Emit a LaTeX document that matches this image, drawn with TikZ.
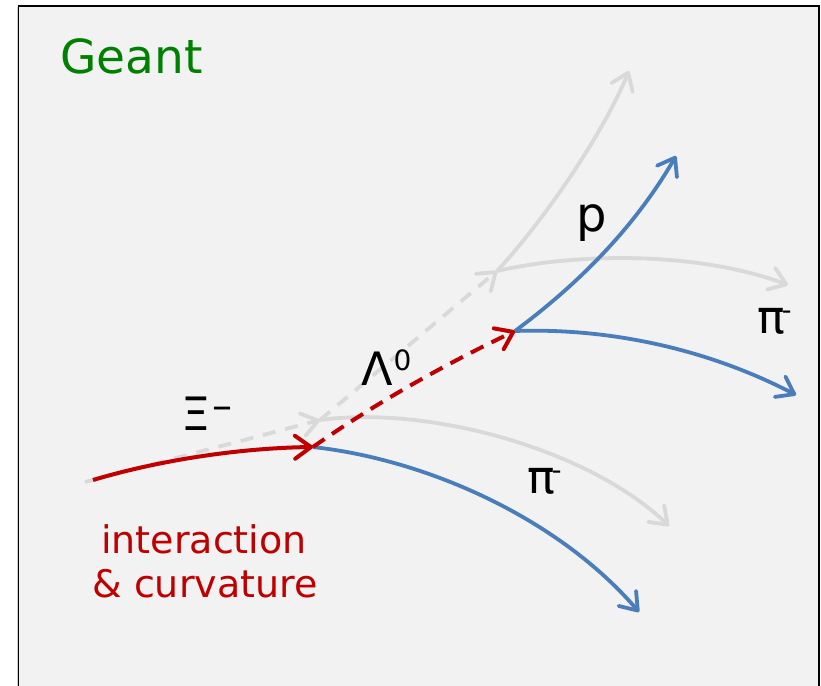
\documentclass[tikz,border=0pt]{standalone}
\usepackage{fontspec}
\setmainfont{DejaVu Sans}
\usetikzlibrary{arrows.meta}
\definecolor{geantgreen}{HTML}{008000}
\definecolor{trkred}{HTML}{C00000}
\definecolor{trkblue}{HTML}{4A7EBB}
\definecolor{trkgray}{HTML}{D9D9D9}
\definecolor{panelbg}{HTML}{F2F2F2}
\tikzset{
  barb/.style={-{Straight Barb[length=16pt,width=23pt,round]}},
  ghost/.style={draw=trkgray,line width=3.8pt,barb},
  ghostdash/.style={ghost,dash pattern=on 13pt off 10pt},
  redtrk/.style={draw=trkred,line width=4pt,barb},
  reddash/.style={redtrk,dash pattern=on 14pt off 9pt},
  bluetrk/.style={draw=trkblue,line width=3.8pt,barb},
  lbl/.style={inner sep=0pt,anchor=base west,font=\fontsize{46}{52}\selectfont},
}
\begin{document}
\begin{tikzpicture}[x=1pt,y=-1pt]
\useasboundingbox (0,0) rectangle (821,685);
% panel
\fill[panelbg] (18.5,6) rectangle (819,700);
\draw[gray!40,line width=1pt] (17,7) -- (17,700);
\draw[black,line width=1.5pt] (18.5,700) -- (18.5,6) -- (819,6) -- (819,700);
% coordinates
\coordinate (gstart) at (85,482);
\coordinate (gv1) at (320,420);
\coordinate (gv2) at (497,271);
\coordinate (gpiA) at (669,526);
\coordinate (gp) at (629,71);
\coordinate (gpiB) at (788,285);
\coordinate (rstart) at (93,480);
\coordinate (v1) at (313,447);
\coordinate (v2) at (515,331);
\coordinate (bpiA) at (639,612);
\coordinate (bp) at (676,156);
\coordinate (bpiB) at (796,395);
% ghost tracks
\draw[ghostdash] (gstart) -- (gv1);
\draw[ghostdash] (gv1) -- (gv2);
\draw[ghost] (gv1) .. controls (430,405) and (590,450) .. (gpiA);
\draw[ghost] (gv2) .. controls (540,225) and (600,140) .. (gp);
\draw[ghost] (gv2) .. controls (580,252) and (700,252) .. (gpiB);
% blue tracks
\draw[bluetrk] (v1) .. controls (430,460) and (560,520) .. (bpiA);
\draw[bluetrk] (v2) .. controls (570,290) and (630,235) .. (bp);
\draw[bluetrk] (v2) .. controls (600,328) and (700,345) .. (bpiB);
% red tracks
\draw[redtrk] (rstart) .. controls (160,460) and (240,448) .. (v1);
\draw[reddash] (v1) .. controls (380,400) and (450,362) .. (v2);
% labels
\node[inner sep=0pt,anchor=base west,text=geantgreen,font=\fontsize{47}{54}\selectfont] (geant) at (60,74) {Geant};
\node[inner sep=0pt,anchor=base,text=trkred,font=\fontsize{38}{44}\selectfont] (int1) at (204,553) {interaction};
\node[inner sep=0pt,anchor=base,text=trkred,font=\fontsize{38}{44}\selectfont] (int2) at (205,597) {\& curvature};
\node[lbl] (xi) at (181,430) {Ξ\kern2pt\raisebox{11pt}{\fontsize{40}{44}\selectfont –}};
\node[lbl] (lam) at (361,385) {Λ\kern1pt\raisebox{15pt}{\fontsize{28}{30}\selectfont 0}};
\node[lbl,font=\fontsize{48}{54}\selectfont] (plbl) at (576,231) {p};
\node[lbl] (piA) at (527,493) {π\kern-3pt\raisebox{14pt}{\fontsize{27}{30}\selectfont -}};
\node[lbl] (piB) at (757,333) {π\kern-3pt\raisebox{14pt}{\fontsize{27}{30}\selectfont -}};
\end{tikzpicture}
\end{document}
